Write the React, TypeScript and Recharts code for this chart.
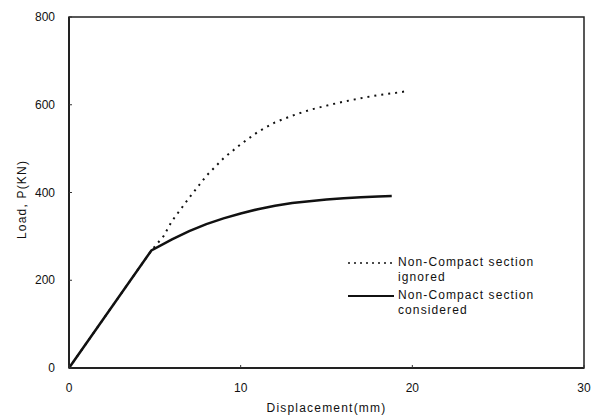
import React from 'react';
import { LineChart, Line, XAxis, YAxis, ReferenceArea } from 'recharts';

const ignoredDisp = [0, 4.8, 5.5, 6, 7, 8, 9, 10, 11, 12, 13, 14, 15, 16, 17, 18, 19, 19.7];
const ignoredLoad = [0, 268, 300, 335, 388, 438, 478, 510, 538, 560, 575, 588, 598, 607, 615, 622, 627, 631];
const consideredDisp = [0, 4.8, 6, 7, 8, 9, 10, 11, 12, 13, 14, 15, 16, 17, 18, 18.8];
const consideredLoad = [0, 268, 293, 312, 328, 341, 352, 362, 370, 376, 380, 384, 387, 389, 391, 392];
const xTicks = [0, 10, 20, 30];
const yTicks = [0, 200, 400, 600, 800];
const seriesNames = ['Non-Compact section ignored', 'Non-Compact section considered'];

const ignoredData = ignoredDisp.map((d, i) => ({ d, p: ignoredLoad[i] }));
const consideredData = consideredDisp.map((d, i) => ({ d, p: consideredLoad[i] }));

const FONT = '"Liberation Sans", Arial, sans-serif';

const XTick = (props: any) => {
  const { x, y, payload } = props;
  return (
    <g>
      <line x1={x} y1={y} x2={x} y2={y - 3} stroke="#333" strokeWidth={1} />
      <text x={x} y={y + 24} textAnchor="middle" fontFamily={FONT} fontSize={12} fill="#111">
        {payload.value}
      </text>
    </g>
  );
};

const YTick = (props: any) => {
  const { x, y, payload } = props;
  return (
    <g>
      <line x1={x} y1={y} x2={x + 3} y2={y} stroke="#333" strokeWidth={1} />
      <text x={x - 14} y={y + 4} textAnchor="end" fontFamily={FONT} fontSize={12} fill="#111">
        {payload.value}
      </text>
    </g>
  );
};

const YLabel = (props: any) => {
  const vb = props.viewBox;
  const cx = vb.x + 26;
  const cy = vb.y + vb.height / 2 + 7;
  return (
    <text
      x={cx}
      y={cy}
      transform={`rotate(-90, ${cx}, ${cy})`}
      textAnchor="middle"
      fontFamily={FONT}
      fontSize={12}
      letterSpacing={1.2}
      fill="#111"
    >
      Load, P(KN)
    </text>
  );
};

const XLabel = (props: any) => {
  const vb = props.viewBox;
  const cx = vb.x + vb.width / 2;
  return (
    <text x={cx} y={vb.y + 44} textAnchor="middle" fontFamily={FONT} fontSize={12} letterSpacing={1.2} fill="#111">
      Displacement(mm)
    </text>
  );
};

const LegendBox = () => {
  const rows = [
    { dash: '2 4', lines: ['Non-Compact section', 'ignored'] },
    { dash: undefined, lines: ['Non-Compact section', 'considered'] },
  ];
  return (
    <div
      style={{
        position: 'absolute',
        left: 346,
        top: 255,
        width: 240,
        fontFamily: FONT,
        fontSize: 12,
        letterSpacing: 1.1,
        color: '#111',
      }}
    >
      {rows.map((r, i) => (
        <div key={i} style={{ display: 'flex', alignItems: 'flex-start', marginBottom: i === 0 ? 3 : 0 }}>
          <svg width={50} height={15} style={{ flex: 'none' }}>
            <line x1={2} y1={8} x2={48} y2={8} stroke="#111" strokeWidth={i === 0 ? 1.5 : 2} strokeDasharray={r.dash} />
          </svg>
          <div style={{ lineHeight: '15px', marginLeft: 2 }} title={seriesNames[i]}>
            <div>{r.lines[0]}</div>
            <div>{r.lines[1]}</div>
          </div>
        </div>
      ))}
    </div>
  );
};

export default function App() {
  return (
    <div style={{ position: 'absolute', left: 0, top: 0, width: 602, height: 419, background: '#fff' }}>
      <LineChart width={602} height={419} margin={{ top: 17, right: 18, left: 0, bottom: 0 }}>
        <XAxis
          dataKey="d"
          type="number"
          domain={[0, 30]}
          ticks={xTicks}
          height={51}
          tickSize={0}
          tickMargin={0}
          tickLine={false}
          axisLine={{ stroke: '#222', strokeWidth: 2 }}
          tick={<XTick />}
          label={<XLabel />}
          allowDataOverflow
        />
        <YAxis
          dataKey="p"
          type="number"
          domain={[0, 800]}
          ticks={yTicks}
          width={69}
          tickSize={0}
          tickMargin={0}
          tickLine={false}
          axisLine={{ stroke: '#222', strokeWidth: 2 }}
          tick={<YTick />}
          label={<YLabel />}
        />
        <ReferenceArea x1={0} x2={30} y1={0} y2={800} fill="none" stroke="#222" strokeWidth={1.5} ifOverflow="visible" />
        <Line
          data={ignoredData}
          dataKey="p"
          name={seriesNames[0]}
          type="linear"
          stroke="#111"
          strokeWidth={2}
          strokeDasharray="2 5"
          dot={false}
          isAnimationActive={false}
        />
        <Line
          data={consideredData}
          dataKey="p"
          name={seriesNames[1]}
          type="linear"
          stroke="#111"
          strokeWidth={2.5}
          dot={false}
          isAnimationActive={false}
        />
      </LineChart>
      <LegendBox />
    </div>
  );
}
